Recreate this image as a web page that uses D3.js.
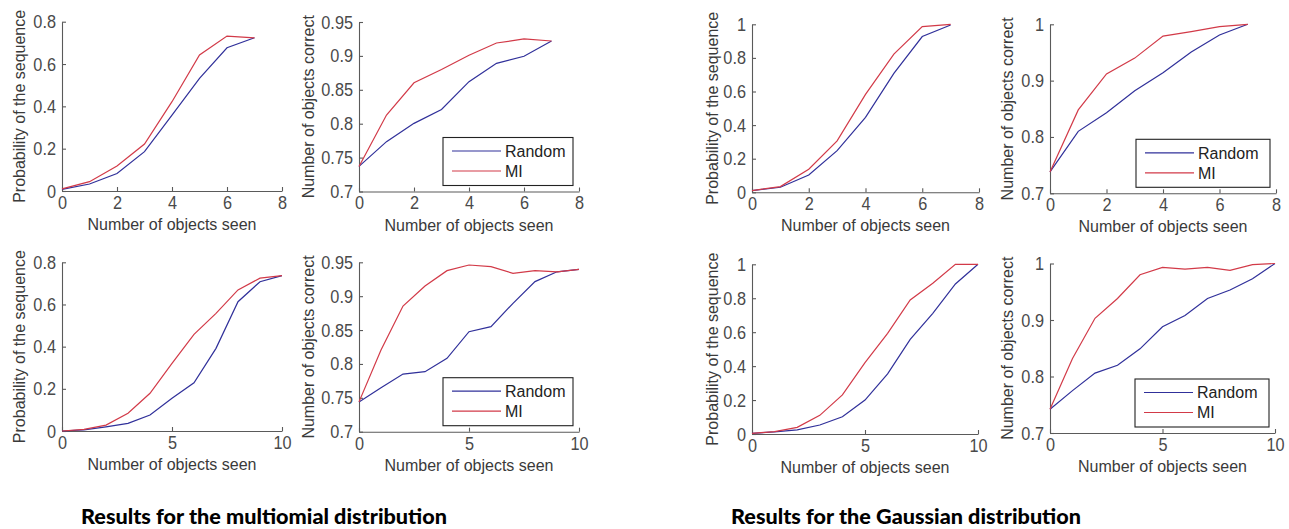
<!DOCTYPE html>
<html>
<head>
<meta charset="utf-8">
<script src="https://cdn.jsdelivr.net/npm/d3@7"></script>
<style>
body{margin:0;background:#fff;}
svg{display:block;}
</style>
</head>
<body>
<svg id="chart" width="1289" height="529"></svg>
<script>
// values
var steps7 = [0, 1, 2, 3, 4, 5, 6, 7];
var steps10 = [0, 1, 2, 3, 4, 5, 6, 7, 8, 9, 10];

var multiProbRandom = [0.008, 0.033, 0.083, 0.186, 0.359, 0.532, 0.677, 0.724];
var multiProbMI     = [0.010, 0.044, 0.118, 0.222, 0.422, 0.643, 0.732, 0.724];
var multiCorrRandom = [0.737, 0.7735, 0.8005, 0.821, 0.862, 0.889, 0.8995, 0.922];
var multiCorrMI     = [0.737, 0.8127, 0.8603, 0.8799, 0.901, 0.919, 0.925, 0.922];

var multiProbRandom10 = [0.0, 0.005, 0.02, 0.036, 0.076, 0.155, 0.229, 0.392, 0.613, 0.708, 0.737];
var multiProbMI10     = [0.0, 0.008, 0.028, 0.084, 0.179, 0.321, 0.458, 0.558, 0.669, 0.725, 0.737];
var multiCorrRandom10 = [0.744, 0.765, 0.785, 0.7886, 0.8083, 0.8476, 0.855, 0.8895, 0.9215, 0.936, 0.9397];
var multiCorrMI10     = [0.744, 0.8206, 0.8855, 0.915, 0.9377, 0.946, 0.9436, 0.9337, 0.9377, 0.936, 0.9397];

var gaussProbRandom = [0.01, 0.03, 0.103, 0.248, 0.446, 0.708, 0.927, 0.996];
var gaussProbMI     = [0.01, 0.034, 0.137, 0.306, 0.583, 0.823, 0.986, 1.0];
var gaussCorrRandom = [0.738, 0.81, 0.843, 0.882, 0.914, 0.951, 0.981, 1.0];
var gaussCorrMI     = [0.738, 0.848, 0.912, 0.94, 0.979, 0.987, 0.996, 1.0];

var gaussProbRandom10 = [0.004, 0.012, 0.024, 0.053, 0.102, 0.2, 0.354, 0.558, 0.711, 0.884, 1.0];
var gaussProbMI10     = [0.004, 0.014, 0.039, 0.11, 0.23, 0.42, 0.593, 0.79, 0.888, 1.0, 1.0];
var gaussCorrRandom10 = [0.742, 0.775, 0.806, 0.82, 0.849, 0.888, 0.908, 0.938, 0.953, 0.973, 1.0];
var gaussCorrMI10     = [0.742, 0.832, 0.903, 0.938, 0.98, 0.993, 0.99, 0.993, 0.988, 0.998, 1.0];

var xTicks8 = [0, 2, 4, 6, 8];
var xTicks10 = [0, 5, 10];
var probTicks08 = [0, 0.2, 0.4, 0.6, 0.8];
var probTicks1 = [0, 0.2, 0.4, 0.6, 0.8, 1];
var corrTicks95 = [0.7, 0.75, 0.8, 0.85, 0.9, 0.95];
var corrTicks1 = [0.7, 0.8, 0.9, 1];

var seriesNames = ["Random", "MI"];
var xLabel = "Number of objects seen";
var probLabel = "Probability of the sequence";
var corrLabel = "Number of objects correct";
var titles = ["Results for the multiomial distribution", "Results for the Gaussian distribution"];

var colors = {Random: "#30309a", MI: "#d23a48"};
var axisColor = "#5a5a5a";
var textFont = "'Liberation Sans', Arial, sans-serif";

var svg = d3.select("#chart");

function drawPanel(p){
    var x = d3.scaleLinear().domain(p.xDomain).range([p.left, p.right]);
    var y = d3.scaleLinear().domain(p.yDomain).range([p.bottom, p.top]);
    var g = svg.append("g");

    var fmt = function(d){ return String(+d.toFixed(2)); };

    var xAxis = g.append("g")
        .attr("transform", "translate(0," + p.bottom + ")")
        .call(d3.axisBottom(x).tickValues(p.xTicks).tickFormat(fmt).tickSizeInner(-4).tickSizeOuter(0).tickPadding(4));
    var yAxis = g.append("g")
        .attr("transform", "translate(" + p.left + ",0)")
        .call(d3.axisLeft(y).tickValues(p.yTicks).tickFormat(fmt).tickSizeInner(-4).tickSizeOuter(0).tickPadding(6));

    // the tick digits in the picture are a bit taller than they are wide
    [xAxis, yAxis].forEach(function(a){
        a.selectAll("path, line").attr("stroke", axisColor).attr("stroke-width", 1.1);
        a.selectAll("text")
            .attr("fill", "#4a4a4a")
            .attr("transform", "scale(1,1.15)")
            .style("font-family", textFont)
            .style("font-size", "16.3px");
    });

    g.append("text")
        .attr("x", (p.left + p.right) / 2)
        .attr("y", p.bottom + 39)
        .attr("text-anchor", "middle")
        .attr("fill", "#3a3a3a")
        .style("font-family", textFont)
        .style("font-size", "16px")
        .text(xLabel);

    var cy = (p.top + p.bottom) / 2;
    g.append("text")
        .attr("transform", "translate(" + (p.left - p.yLabelGap) + "," + cy + ") rotate(-90)")
        .attr("dy", "0.35em")
        .attr("text-anchor", "middle")
        .attr("fill", "#3a3a3a")
        .style("font-family", textFont)
        .style("font-size", "16px")
        .text(p.yLabel);

    var line = d3.line()
        .x(function(d){ return x(d[0]); })
        .y(function(d){ return y(d[1]); });

    seriesNames.forEach(function(name){
        g.append("path")
            .datum(d3.zip(p.steps, p.series[name]))
            .attr("fill", "none")
            .attr("stroke", colors[name])
            .attr("stroke-width", 1.2)
            .attr("d", line);
    });

    if(p.legend){
        var lw = p.legend.w, lh = 48;
        var lx = p.right - 6 - lw, ly = p.bottom - 6 - lh;
        var leg = g.append("g").attr("transform", "translate(" + lx + "," + ly + ")");
        leg.append("rect")
            .attr("width", lw).attr("height", lh)
            .attr("fill", "#fff").attr("stroke", "#222").attr("stroke-width", 1.1);
        seriesNames.forEach(function(name, i){
            var yy = 13.5 + i * 20;
            leg.append("line")
                .attr("x1", 9).attr("x2", 58)
                .attr("y1", yy).attr("y2", yy)
                .attr("stroke", colors[name]).attr("stroke-width", 1.2);
            leg.append("text")
                .attr("x", 62).attr("y", yy).attr("dy", "0.36em")
                .attr("fill", "#222")
                .style("font-family", textFont)
                .style("font-size", "16px")
                .text(name);
        });
    }
}

var panels = [
    {left: 62, right: 282, top: 21.7, bottom: 191, xDomain: [0, 8], yDomain: [0, 0.8],
     xTicks: xTicks8, yTicks: probTicks08, steps: steps7, yLabel: probLabel, yLabelGap: 43,
     series: {Random: multiProbRandom, MI: multiProbMI}},
    {left: 359, right: 579, top: 22, bottom: 191.5, xDomain: [0, 8], yDomain: [0.7, 0.95],
     xTicks: xTicks8, yTicks: corrTicks95, steps: steps7, yLabel: corrLabel, yLabelGap: 51,
     series: {Random: multiCorrRandom, MI: multiCorrMI}, legend: {w: 130}},
    {left: 62, right: 282, top: 262.3, bottom: 431, xDomain: [0, 10], yDomain: [0, 0.8],
     xTicks: xTicks10, yTicks: probTicks08, steps: steps10, yLabel: probLabel, yLabelGap: 43,
     series: {Random: multiProbRandom10, MI: multiProbMI10}},
    {left: 359, right: 579, top: 262.3, bottom: 431.7, xDomain: [0, 10], yDomain: [0.7, 0.95],
     xTicks: xTicks10, yTicks: corrTicks95, steps: steps10, yLabel: corrLabel, yLabelGap: 51,
     series: {Random: multiCorrRandom10, MI: multiCorrMI10}, legend: {w: 130}},
    {left: 752, right: 979, top: 24.3, bottom: 192.3, xDomain: [0, 8], yDomain: [0, 1],
     xTicks: xTicks8, yTicks: probTicks1, steps: steps7, yLabel: probLabel, yLabelGap: 40,
     series: {Random: gaussProbRandom, MI: gaussProbMI}},
    {left: 1050, right: 1276, top: 24.3, bottom: 193.3, xDomain: [0, 8], yDomain: [0.7, 1],
     xTicks: xTicks8, yTicks: corrTicks1, steps: steps7, yLabel: corrLabel, yLabelGap: 43,
     series: {Random: gaussCorrRandom, MI: gaussCorrMI}, legend: {w: 134}},
    {left: 752, right: 978, top: 264.3, bottom: 434, xDomain: [0, 10], yDomain: [0, 1],
     xTicks: xTicks10, yTicks: probTicks1, steps: steps10, yLabel: probLabel, yLabelGap: 40,
     series: {Random: gaussProbRandom10, MI: gaussProbMI10}},
    {left: 1050, right: 1275, top: 263.5, bottom: 433, xDomain: [0, 10], yDomain: [0.7, 1],
     xTicks: xTicks10, yTicks: corrTicks1, steps: steps10, yLabel: corrLabel, yLabelGap: 43,
     series: {Random: gaussCorrRandom10, MI: gaussCorrMI10}, legend: {w: 134}}
];

panels.forEach(drawPanel);

var titlePos = [{x: 81, w: 366}, {x: 731, w: 350}];
titles.forEach(function(t, i){
    svg.append("text")
        .attr("x", titlePos[i].x)
        .attr("y", 524)
        .attr("textLength", titlePos[i].w)
        .attr("lengthAdjust", "spacingAndGlyphs")
        .attr("fill", "#000")
        .style("font-family", "Lato, 'Open Sans', sans-serif")
        .style("font-weight", "900")
        .style("font-size", "21px")
        .text(t);
});
</script>
</body>
</html>
